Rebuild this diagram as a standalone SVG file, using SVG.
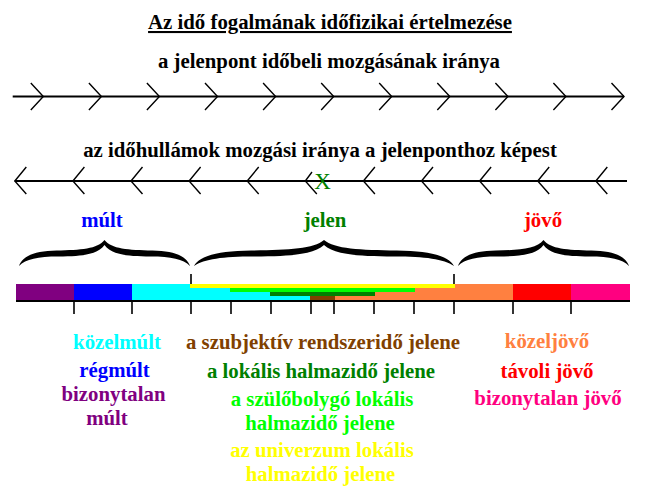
<svg xmlns="http://www.w3.org/2000/svg" xmlns:xlink="http://www.w3.org/1999/xlink" width="650" height="500" viewBox="0 0 650 500">
<style>
text{font-family:"Liberation Serif","Times New Roman",serif;font-weight:bold;font-size:20.8px;text-anchor:middle}
.ax{stroke:#000;stroke-width:2;fill:none}
.ch{stroke:#000;stroke-width:1.4;fill:none}
.tk{stroke:#000;stroke-width:1.6}
</style>
<defs>
<path id="brace" d="M0,26 C2,16 9,11 22,10.5 C36,10 46,9 50,0 C54,9 64,10 78,10.5 C91,11 98,16 100,26 C96,19 89,16.5 77,16.5 C62,16.5 54,14 50,5 C46,14 38,16.5 23,16.5 C11,16.5 4,19 0,26 Z" fill="#000"/>
</defs>
<rect width="650" height="500" fill="#fff"/>
<g id="title">
<text x="330" y="29" text-decoration="underline">Az idő fogalmának időfizikai értelmezése</text>
</g>
<g id="arrow-jelenpont">
<text x="329" y="68">a jelenpont időbeli mozgásának iránya</text>
<line class="ax" x1="12.7" y1="96.5" x2="624" y2="96.5"/>
<path class="ch" d="M30.8,83 L43.3,96.5 L30.8,110 M88.9,83 L101.4,96.5 L88.9,110 M146.9,83 L159.4,96.5 L146.9,110 M205,83 L217.5,96.5 L205,110 M263.1,83 L275.6,96.5 L263.1,110 M321.2,83 L333.7,96.5 L321.2,110 M379.2,83 L391.7,96.5 L379.2,110 M437.3,83 L449.8,96.5 L437.3,110 M495.4,83 L507.9,96.5 L495.4,110 M553.4,83 L565.9,96.5 L553.4,110 M611.5,83 L624,96.5 L611.5,110"/>
</g>
<g id="arrow-idohullamok">
<text x="320" y="157">az időhullámok mozgási iránya a jelenponthoz képest</text>
<line class="ax" x1="14.8" y1="181" x2="627" y2="181"/>
<path class="ch" d="M26.3,167 L14.8,181 L26.3,194 M84.4,167 L72.9,181 L84.4,194 M142.5,167 L131,181 L142.5,194 M200.6,167 L189.1,181 L200.6,194 M258.7,167 L247.2,181 L258.7,194 M312,172 L305.3,181 L316.8,194 M374.9,167 L363.4,181 L374.9,194 M433,167 L421.5,181 L433,194 M491.1,167 L479.6,181 L491.1,194 M549.2,167 L537.7,181 L549.2,194 M607.3,167 L595.8,181 L607.3,194"/>
<text x="322.5" y="188.5" style="font-weight:normal;font-size:23px" fill="#008000">X</text>
</g>
<g id="mult">
<text x="102" y="227" fill="#0000ff">múlt</text>
<use xlink:href="#brace" transform="translate(19,240) scale(1.71,1)"/>
</g>
<g id="jelen">
<text x="325" y="227" fill="#008000">jelen</text>
<use xlink:href="#brace" transform="translate(194,240) scale(2.6,1)"/>
</g>
<g id="jovo">
<text x="543" y="227" fill="#ff0000">jövő</text>
<use xlink:href="#brace" transform="translate(458,240) scale(1.71,1)"/>
</g>
<g id="timebar">
<rect x="16" y="284" width="58" height="16" fill="#800080"/>
<rect x="74" y="284" width="58" height="16" fill="#0000ff"/>
<rect x="132" y="284" width="190" height="16" fill="#00ffff"/>
<rect x="322" y="284" width="191" height="16" fill="#ff8040"/>
<rect x="513" y="284" width="58" height="16" fill="#ff0000"/>
<rect x="571" y="284" width="59" height="16" fill="#ff0080"/>
<rect x="190" y="284" width="265" height="4" fill="#ffff00"/>
<rect x="230" y="288" width="185" height="4" fill="#00ff00"/>
<rect x="270" y="292" width="105" height="4" fill="#008000"/>
<rect x="310" y="296" width="25" height="4" fill="#804000"/>
<line x1="16" y1="301" x2="630" y2="301" stroke="#000" stroke-width="2"/>
<path class="tk" d="M191,274V284 M454,274V284 M74,302V314 M132,302V314 M191,302V314 M231,302V314 M271,302V314 M311,302V314 M334,302V314 M374,302V314 M414,302V314 M454,302V314 M513,302V314 M571,302V314"/>
</g>
<g id="past-labels">
<text x="117" y="349" fill="#00ffff">közelmúlt</text>
<text x="114.5" y="377" fill="#0000ff">régmúlt</text>
<text x="113.5" y="401" fill="#800080">bizonytalan</text>
<text x="107" y="425" fill="#800080">múlt</text>
</g>
<g id="present-labels">
<text x="323" y="349" fill="#804000">a szubjektív rendszeridő jelene</text>
<text x="321" y="378" fill="#008000">a lokális halmazidő jelene</text>
<text x="322" y="406" fill="#00ff00">a szülőbolygó lokális</text>
<text x="320" y="430" fill="#00ff00">halmazidő jelene</text>
<text x="322" y="457" fill="#ffff00">az univerzum lokális</text>
<text x="320.5" y="481" fill="#ffff00">halmazidő jelene</text>
</g>
<g id="future-labels">
<text x="547" y="348" fill="#ff8040">közeljövő</text>
<text x="547" y="378" fill="#ff0000">távoli jövő</text>
<text x="548" y="405" fill="#ff0080">bizonytalan jövő</text>
</g>
</svg>
